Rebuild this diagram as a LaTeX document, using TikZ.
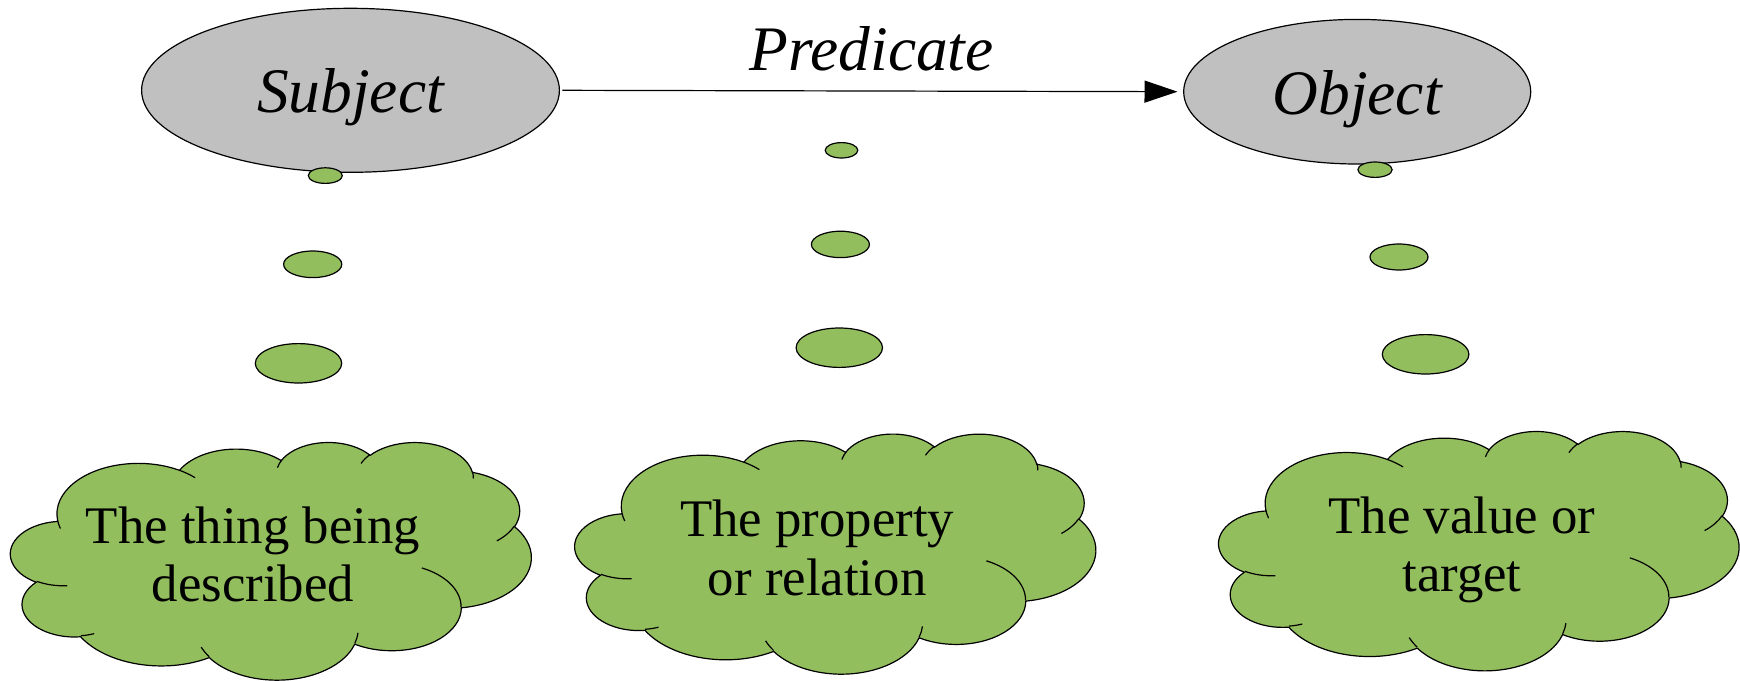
\documentclass[tikz,border=0pt]{standalone}
\usepackage{fontspec}
\setmainfont{Liberation Serif}
\usetikzlibrary{arrows.meta,shapes.geometric}
\definecolor{pgray}{RGB}{192,192,192}
\definecolor{pgreen}{RGB}{147,190,94}
% elliptical arc with DrawingML (visual) angles: wR hR stAng swAng
\newcommand\oa[4]{arc[start angle={atan2((#1)*sin(#3),(#2)*cos(#3))}, delta angle={mod(atan2((#1)*sin((#3)+(#4)),(#2)*cos((#3)+(#4)))-atan2((#1)*sin(#3),(#2)*cos(#3))+720,360)}, x radius=#1, y radius=#2]}
% Office cloud shape in a box: x0 y0 W H (picture units, 1 unit = 0.5pt)
\newcommand\oocloud[4]{%
\begin{scope}[shift={(#1,#2)}, x=1cm, y=1cm, xscale={#3*0.5/1229.16}, yscale={-#4*0.5/1229.16}]
 \path[cloudbody] (3.9,14.37)
  \oa{6.753}{9.19}{-190.4875}{123.7805}
  \oa{5.333}{7.267}{-144.1024}{89.9452}
  \oa{4.365}{5.945}{-145.8079}{99.7230}
  \oa{4.857}{6.595}{-130.9861}{117.2417}
  \oa{5.333}{7.273}{-78.7089}{109.0269}
  \oa{6.775}{9.22}{-46.2673}{130.2690}
  \oa{5.785}{7.867}{0.6250}{114.0333}
  \oa{6.752}{9.215}{22.4516}{115.1726}
  \oa{7.72}{10.543}{66.2426}{75.7110}
  \oa{4.36}{5.918}{-274.9421}{146.7356}
  \oa{4.345}{5.945}{-246.8285}{152.5189}
  -- cycle;
 \path[cloudline] (4.693,26.177) \oa{4.345}{5.945}{86.7420}{26.4295}
  (6.928,34.899) \oa{4.36}{5.918}{73.6105}{11.4475}
  (16.478,39.09) \oa{6.752}{9.215}{137.6242}{14.0811}
  (28.827,34.751) \oa{6.752}{9.215}{6.4533}{15.9984}
  (34.129,22.954) \oa{5.785}{7.867}{-70.2924}{70.9174}
  (41.798,15.354) \oa{5.333}{7.273}{30.3180}{27.7515}
  (38.324,5.426) \oa{4.857}{6.595}{-13.7443}{14.8589}
  (29.078,3.952) \oa{4.857}{6.595}{-149.1815}{18.1954}
  (22.141,4.72) \oa{4.365}{5.945}{-163.4943}{17.6864}
  (14,5.192) \oa{6.753}{9.19}{-66.7070}{12.3194}
  (4.127,15.789) \oa{6.753}{9.19}{157.6544}{11.8582};
\end{scope}}
\begin{document}
\begin{tikzpicture}[x=0.5pt, y=-0.5pt, line width=0.6pt,
  bigell/.style={ellipse, draw=black, fill=pgray, inner sep=0pt, text height=22.5pt, text depth=0pt, font=\fontsize{31.7}{38}\selectfont\itshape},
  blob/.style={ellipse, draw=black, fill=pgreen, inner sep=0pt},
  lbl/.style={font=\fontsize{31.7}{38}\selectfont\itshape},
  cloudtext/.style={inner sep=0pt, anchor=base, font=\fontsize{26.4}{29.2}\selectfont},
  cloudbody/.style={fill=pgreen, draw=black},
  cloudline/.style={draw=black}]
\useasboundingbox (0,0) rectangle (1740,680);

\oocloud{10.7}{441.7}{520.5}{237.6}
\oocloud{575}{433.3}{520.7}{240}
\oocloud{1218.9}{430.7}{520}{239.3}

\node[cloudtext] (t1) at (253,543.3) {\begin{tabular}[t]{@{}c@{}}The thing being\\described\end{tabular}};
\node[cloudtext] (t2) at (817.2,536.7) {\begin{tabular}[t]{@{}c@{}}The property\\or relation\end{tabular}};
\node[cloudtext] (t3) at (1462,533.3) {\begin{tabular}[t]{@{}c@{}}The value or\\target\end{tabular}};

\node[bigell, minimum width=208.9pt, minimum height=82pt] (subj) at (350.5,90.3) {Subject};
\node[bigell, minimum width=173.5pt, minimum height=72.3pt] (obj) at (1357.2,91.7) {Object};
\draw[-{Triangle[length=16.5pt,width=11pt]}, shorten <=1.2pt, shorten >=2.8pt] (subj.east) -- node[lbl, above=9.5pt, inner sep=0pt] (pred) {Predicate} (obj.west);

\node[blob, minimum width=17pt, minimum height=7.8pt] (s1) at (325.3,175.6) {};
\node[blob, minimum width=29.1pt, minimum height=13.3pt] (s2) at (312.7,264.3) {};
\node[blob, minimum width=43.2pt, minimum height=19.7pt] (s3) at (298.5,363.3) {};
\node[blob, minimum width=16.3pt, minimum height=7.7pt] (m1) at (841.5,150.3) {};
\node[blob, minimum width=29pt, minimum height=13.2pt] (m2) at (840.4,244.4) {};
\node[blob, minimum width=43.2pt, minimum height=19.7pt] (m3) at (839.3,347.7) {};
\node[blob, minimum width=17.1pt, minimum height=7.7pt] (o1) at (1375,169.7) {};
\node[blob, minimum width=29pt, minimum height=13pt] (o2) at (1399,257) {};
\node[blob, minimum width=43.3pt, minimum height=19.7pt] (o3) at (1425.6,354.3) {};
\end{tikzpicture}
\end{document}
